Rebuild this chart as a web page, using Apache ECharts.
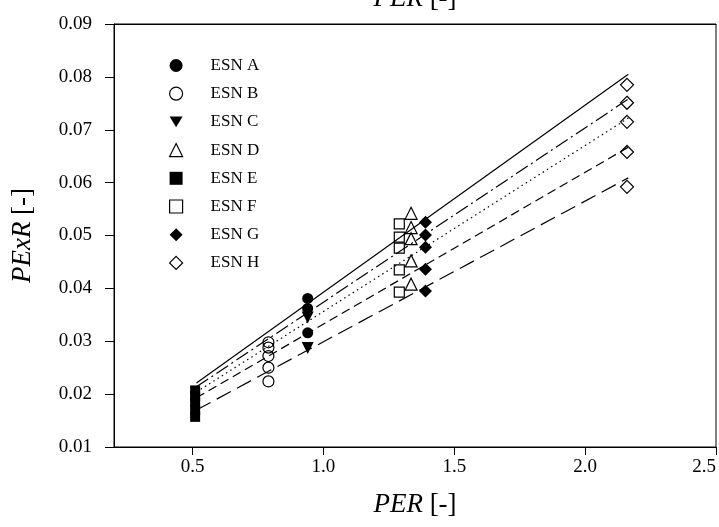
<!DOCTYPE html>
<html>
<head>
<meta charset="utf-8">
<script src="https://cdn.jsdelivr.net/npm/echarts@6/dist/echarts.min.js"></script>
<style>
  html, body { margin: 0; padding: 0; background: #fff; }
  #main { width: 719px; height: 527px; }
</style>
</head>
<body>
<div id="main"></div>
<script type="text/javascript">
    // 站点数据 (PER, PExR)
    var esnNames = ['ESN A', 'ESN B', 'ESN C', 'ESN D', 'ESN E', 'ESN F', 'ESN G', 'ESN H'];
    var esnX = [0.94, 0.79, 0.94, 1.335, 0.51, 1.29, 1.39, 2.16];
    var esnA = [0.0381, 0.0362, 0.0316];
    var esnB = [0.0298, 0.0288, 0.0272, 0.0250, 0.0224];
    var esnC = [0.0345, 0.0287];
    var esnD = [0.0542, 0.0515, 0.0494, 0.0452, 0.0408];
    var esnE = [0.0207, 0.0196, 0.0185, 0.0170, 0.0157];
    var esnF = [0.0522, 0.0497, 0.0476, 0.0435, 0.0393];
    var esnG = [0.0525, 0.0501, 0.0478, 0.0436, 0.0395];
    var esnH = [0.0785, 0.0751, 0.0715, 0.0658, 0.0592];

    // 月份回归线
    var months = ['Jan.', 'Dec.', 'Feb.', 'Mar.', 'Nov.'];
    var lineX = [0.515, 2.165];
    var lineJan = [0.0221, 0.0805];
    var lineDec = [0.0214, 0.0758];
    var lineFeb = [0.0204, 0.0722];
    var lineMar = [0.0193, 0.0667];
    var lineNov = [0.0170, 0.0609];

    var xTicks = [0.5, 1.0, 1.5, 2.0, 2.5];

    var font = 'Liberation Serif';
    var triDown = 'path://M0,0L12,0L6,10Z';
    var esnValues = [esnA, esnB, esnC, esnD, esnE, esnF, esnG, esnH];
    var symbols = ['circle', 'circle', triDown, 'triangle', 'rect', 'rect', 'diamond', 'diamond'];
    var sizes = [11, 11, 12, 12, 10, 10, 13, 13];
    var filled = [true, false, true, false, true, false, true, false];

    var lineValues = [lineJan, lineDec, lineFeb, lineMar, lineNov];
    var dashes = ['solid', [14, 4, 2, 4], [1.5, 3.5], [9, 5], [16, 7]];

    var series = [];
    var legendData = [];
    for (var m = 0; m < months.length; m++) {
        var pts = [];
        for (var k = 0; k < lineX.length; k++) {
            pts.push([lineX[k], lineValues[m][k]]);
        }
        pts[pts.length - 1] = {
            value: pts[pts.length - 1],
            label: {
                show: true, formatter: months[m], position: 'right', distance: 16,
                fontFamily: font, fontSize: 17, color: '#000'
            }
        };
        series.push({
            name: months[m],
            type: 'line',
            data: pts,
            symbol: 'none',
            silent: true,
            lineStyle: { color: '#000', width: 1.2, type: dashes[m] },
            z: 1
        });
    }
    for (var i = 0; i < esnNames.length; i++) {
        var d = [];
        for (var j = 0; j < esnValues[i].length; j++) {
            d.push([esnX[i], esnValues[i][j]]);
        }
        var st = filled[i]
            ? { color: '#000', borderColor: '#000', borderWidth: 0, opacity: 1 }
            : { color: 'transparent', borderColor: '#000', borderWidth: 1.2, opacity: 1 };
        series.push({
            name: esnNames[i],
            type: 'scatter',
            data: d,
            symbol: symbols[i],
            symbolSize: sizes[i],
            itemStyle: st,
            z: 3
        });
        legendData.push({ name: esnNames[i], icon: symbols[i], itemStyle: st });
    }

    var nameStyle = {
        fontFamily: font, fontSize: 27, color: '#000',
        rich: { i: { fontFamily: font, fontSize: 27, fontStyle: 'italic', color: '#000' } }
    };

    var myChart = echarts.init(document.getElementById('main'));
    var option = {
        animation: false,
        backgroundColor: '#fff',
        textStyle: { fontFamily: font, color: '#000' },
        grid: {
            left: 114, right: 3, top: 24, bottom: 80,
            outerBoundsMode: 'none',
            containLabel: false,
            show: true, borderColor: '#000', borderWidth: 1
        },
        legend: {
            data: legendData,
            orient: 'vertical',
            left: 164,
            top: 52,
            itemWidth: 13,
            itemHeight: 13,
            itemGap: 11.2,
            selectedMode: false,
            textStyle: { fontFamily: font, fontSize: 17, color: '#000', lineHeight: 17, padding: [0, 0, 0, 23] }
        },
        xAxis: [{
            type: 'value',
            min: 0.2, max: 2.5,
            position: 'bottom',
            name: '{i|PER} [-]',
            nameLocation: 'middle',
            nameGap: 44,
            nameTextStyle: nameStyle,
            axisLine: { show: true, lineStyle: { color: '#000', width: 1 } },
            axisTick: { show: true, inside: false, length: 8, customValues: xTicks, lineStyle: { color: '#000' } },
            axisLabel: {
                customValues: xTicks, margin: 11, fontFamily: font, fontSize: 19, color: '#000',
                alignMaxLabel: 'right',
                formatter: function (v) { return v.toFixed(1); }
            },
            splitLine: { show: false }
        }, {
            type: 'value',
            min: 0.2, max: 2.5,
            position: 'top',
            name: '{i|PER} [-]',
            nameLocation: 'middle',
            nameGap: 12,
            nameTextStyle: nameStyle,
            axisLine: { show: true, lineStyle: { color: '#000', width: 1 } },
            axisTick: { show: false },
            axisLabel: { show: false },
            splitLine: { show: false }
        }],
        yAxis: {
            type: 'value',
            min: 0.01, max: 0.09, interval: 0.01,
            name: '{i|PExR} [-]',
            nameLocation: 'middle',
            nameGap: 78,
            nameRotate: 90,
            nameTextStyle: nameStyle,
            axisLine: { show: true, lineStyle: { color: '#000', width: 1 } },
            axisTick: { show: true, inside: false, length: 9, lineStyle: { color: '#000' } },
            axisLabel: {
                margin: 22, fontFamily: font, fontSize: 19, color: '#000',
                formatter: function (v) { return v.toFixed(2); }
            },
            splitLine: { show: false }
        },
        series: series
    };
    myChart.setOption(option);
</script>
</body>
</html>
